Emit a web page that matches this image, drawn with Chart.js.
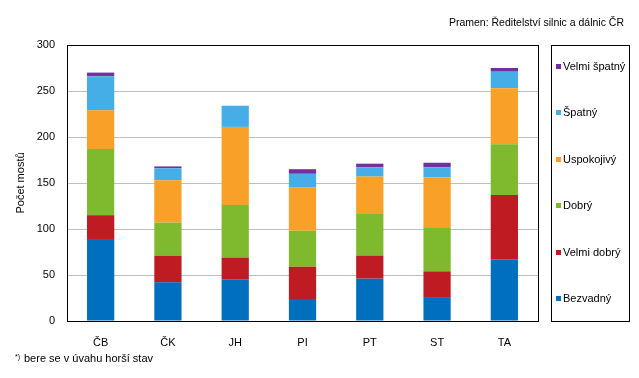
<!doctype html>
<html lang="cs">
  <head>
    <meta charset="utf-8">
    <title>Mosty podle stavu</title>
    <script src="https://cdn.jsdelivr.net/npm/chart.js@4/dist/chart.umd.min.js"></script>
    <style>
      html, body { margin: 0; padding: 0; background: #fff; }
      #graf { display: block; }
    </style>
  </head>
  <body>
    <canvas id="graf" width="639" height="378"></canvas>

    <script>
    // kraje
    var kraje = ["ČB", "ČK", "JH", "PI", "PT", "ST", "TA"];

    // počty mostů podle stavu (odspodu nahoru)
    var bezvadny   = [89, 42, 45, 24, 46, 26, 67];
    var velmiDobry = [26, 29, 24, 35, 25, 28, 70];
    var dobry      = [72, 36, 57, 39, 46, 48, 55];
    var uspokojivy = [42, 46, 85, 47, 40, 54, 61];
    var spatny     = [37, 13, 23, 15, 10, 11, 18];
    var velmiSpatny = [4, 2, 0, 5, 4, 5, 4];

    var osaY = [0, 50, 100, 150, 200, 250, 300];

    var pismo = "'Liberation Sans', Arial, sans-serif";

    // ramecek kolem plochy grafu + legenda v ramecku + texty
    var doplnky = {
      id: 'doplnky',
      afterDraw: function(chart) {
        var ctx = chart.ctx;
        var a = chart.chartArea;
        ctx.save();
        ctx.strokeStyle = '#000';
        ctx.lineWidth = 1;
        ctx.strokeRect(Math.round(a.left) + 0.5, Math.round(a.top) + 0.5,
                       Math.round(a.right - a.left), Math.round(a.bottom - a.top));

        // legenda
        ctx.strokeRect(551.5, 45.5, 78, 276);
        ctx.font = '11px ' + pismo;
        ctx.textBaseline = 'middle';
        ctx.textAlign = 'left';
        var ds = chart.data.datasets;
        for (var i = 0; i < ds.length; i++) {
          var y = 67 + (ds.length - 1 - i) * 46.4;
          ctx.fillStyle = ds[i].backgroundColor;
          ctx.fillRect(556, Math.round(y) - 3, 5, 5);
          ctx.fillStyle = '#000';
          ctx.fillText(ds[i].label, 563, y);
        }

        // zdroj
        ctx.textAlign = 'right';
        ctx.font = '10.5px ' + pismo;
        ctx.fillText('Pramen: Ředitelství silnic a dálnic ČR', 624, 23);

        // poznamka
        ctx.textAlign = 'left';
        ctx.font = '7px ' + pismo;
        ctx.fillText('*)', 15, 357);
        ctx.font = '11px ' + pismo;
        ctx.fillText('bere se v úvahu horší stav', 24, 359);
        ctx.restore();
      }
    };

    var ctx = document.getElementById("graf");
    var myChart = new Chart(ctx, {
      type: 'bar',
      data: {
        labels: kraje,
        datasets: [
          { label: 'Bezvadný', data: bezvadny, backgroundColor: '#0070BE' },
          { label: 'Velmi dobrý', data: velmiDobry, backgroundColor: '#BE1C22' },
          { label: 'Dobrý', data: dobry, backgroundColor: '#7FBA2E' },
          { label: 'Uspokojivý', data: uspokojivy, backgroundColor: '#F8A027' },
          { label: 'Špatný', data: spatny, backgroundColor: '#46AEE6' },
          { label: 'Velmi špatný', data: velmiSpatny, backgroundColor: '#7030A0' }
        ]
      },
      options: {
        responsive: false,
        animation: false,
        devicePixelRatio: 1,
        layout: { padding: { top: 45, right: 101, left: 0, bottom: 0 } },
        datasets: { bar: { barPercentage: 0.405, categoryPercentage: 1 } },
        plugins: {
          legend: { display: false },
          tooltip: { enabled: false }
        },
        scales: {
          x: {
            stacked: true,
            grid: { display: false },
            border: { display: false },
            ticks: { color: '#000', padding: 7, font: { family: pismo, size: 11 } },
            afterFit: function(s) { s.height = 57; }
          },
          y: {
            stacked: true,
            min: 0,
            max: 300,
            afterBuildTicks: function(s) {
              s.ticks = osaY.map(function(v) { return { value: v }; });
            },
            grid: { color: '#BFBFBF', lineWidth: 1, drawTicks: false },
            border: { display: false },
            ticks: { color: '#000', padding: 12, font: { family: pismo, size: 11 } },
            title: {
              display: true,
              text: 'Počet mostů',
              color: '#000',
              padding: { top: 14, bottom: 0 },
              font: { family: pismo, size: 11 }
            },
            afterFit: function(s) { s.width = 67; }
          }
        }
      },
      plugins: [doplnky]
    });
    </script>
  </body>
</html>
